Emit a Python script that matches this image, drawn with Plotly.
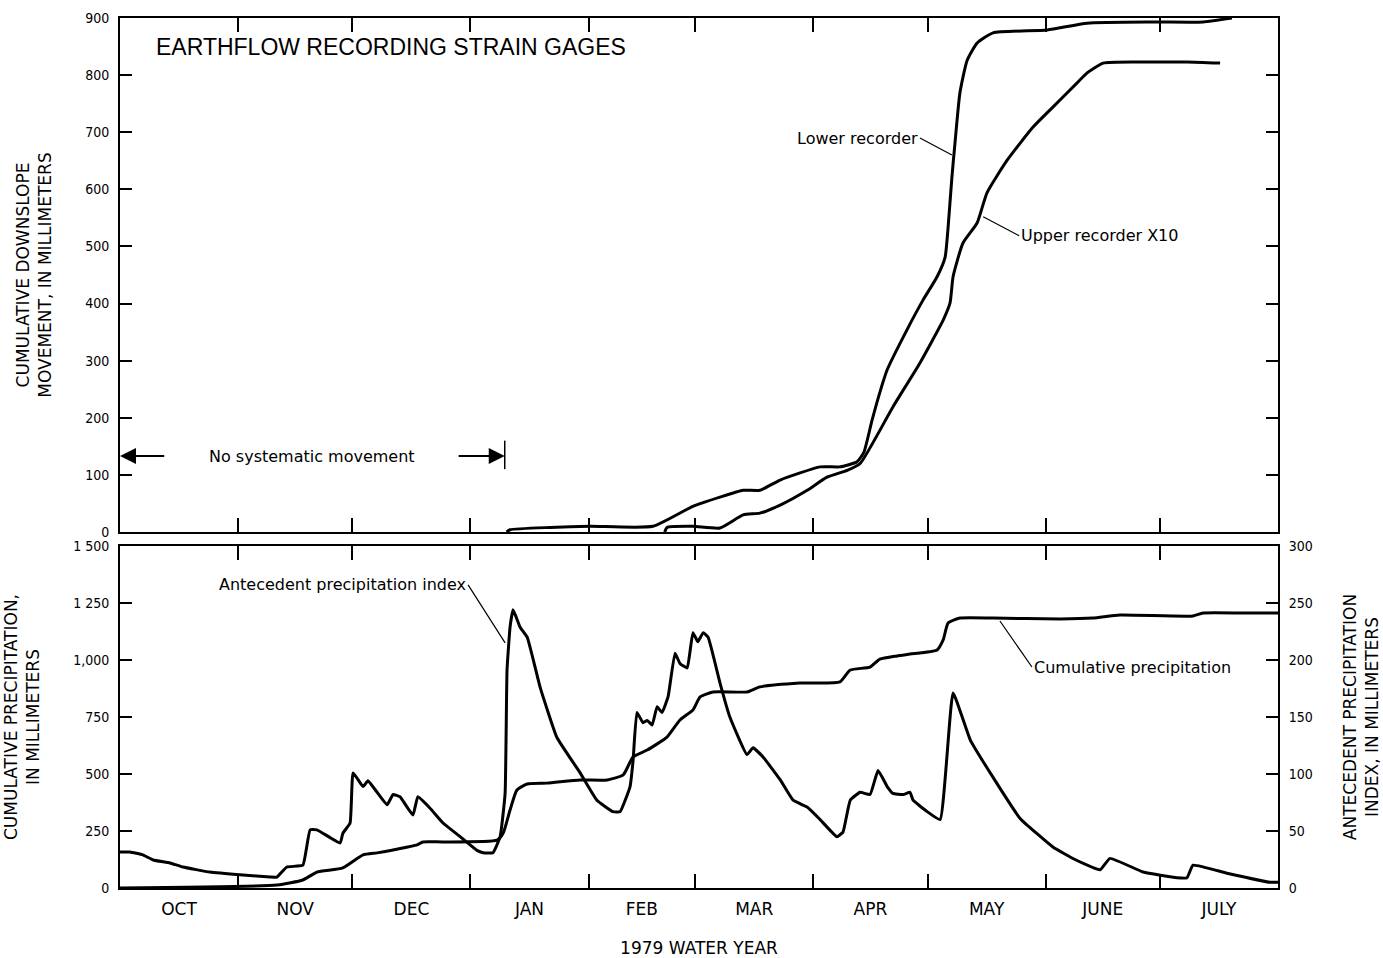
import plotly.graph_objects as go

# ---- data (day of water year: 0 = 1 Oct 1978) ----
month_starts = [0, 31, 61, 92, 123, 151, 182, 212, 243, 273, 304]
month_labels = ["OCT", "NOV", "DEC", "JAN", "FEB", "MAR", "APR", "MAY", "JUNE", "JULY"]

lower_day = [101.5, 102.4, 112.9, 123.4, 139.9, 150.4, 157.5, 163.6, 168.0, 173.3, 183.8, 189.0,
             193.5, 195.3, 197.4, 199.5, 201.4, 206.6, 210.8, 214.5, 216.6, 217.4, 218.4, 219.2,
             220.5, 222.4, 225.0, 229.2, 243.4, 253.9, 271.2, 284.3, 291.9]
lower_mm = [0, 4, 8, 10, 10, 45, 61, 73, 73, 91, 114, 114,
            123, 140, 195, 245, 284, 354, 406, 447, 481, 534, 622, 681,
            769, 826, 856, 874, 879, 891, 893, 893, 900]

upper_day = [143.0, 143.6, 150.4, 157.5, 163.6, 168.0, 173.3, 180.4, 185.6, 190.9, 194.3, 202.9,
             210.0, 216.1, 217.9, 218.7, 221.3, 225.0, 227.6, 232.9, 239.7, 244.9, 251.2, 253.9,
             258.1, 267.0, 280.1, 288.8]
upper_mm = [0, 8, 10, 7, 30, 33, 47, 73, 96, 108, 120, 219,
            296, 371, 401, 447, 506, 541, 594, 651, 709, 744, 786, 804,
            821, 823, 823, 821]

cum_day = [0, 41.2, 48.0, 51.7, 58.5, 63.8, 67.5, 71.7, 78.0, 79.5, 84.8, 99.0, 100.6, 102.4,
           104.2, 106.9, 112.1, 120.8, 127.9, 132.1, 134.7, 138.4, 143.6, 147.0, 150.4, 152.3,
           155.7, 164.6, 168.0, 178.5, 189.0, 191.7, 196.9, 199.5, 204.0, 207.4, 214.5, 216.1,
           217.4, 220.5, 229.2, 246.8, 255.4, 262.5, 281.7, 284.3, 294.8, 304]
cum_mm = [0, 13, 35, 70, 88, 145, 154, 167, 189, 202, 202, 210, 241, 342,
          430, 456, 460, 474, 474, 496, 575, 605, 662, 737, 781, 838,
          860, 860, 882, 899, 904, 956, 969, 1004, 1018, 1026, 1044, 1088,
          1162, 1184, 1184, 1180, 1184, 1197, 1193, 1206, 1206, 1206]

api_day = [0, 2.6, 6.0, 8.7, 13.1, 16.5, 23.6, 32.3, 39.4, 41.2, 43.8, 48.0, 49.9, 51.7, 57.8,
           58.5, 60.4, 61.2, 63.8, 65.1, 70.1, 71.7, 73.5, 76.9, 78.2, 81.4, 84.8, 89.3, 93.7,
           95.3, 97.9, 99.8, 101.1, 101.6, 102.4, 103.2, 105.0, 106.9, 110.3, 114.7, 120.8,
           125.2, 129.4, 131.3, 133.9, 134.7, 135.7, 137.3, 138.4, 139.7, 141.0, 142.3, 143.9,
           145.7, 147.0, 148.9, 150.4, 151.7, 153.1, 154.4, 157.5, 160.1, 164.6, 166.2, 168.8,
           173.3, 176.7, 180.4, 183.8, 188.2, 189.8, 191.7, 194.3, 196.9, 199.0, 201.4, 202.9,
           205.6, 207.4, 208.2, 211.9, 215.3, 218.7, 223.2, 229.2, 236.3, 244.9, 250.7, 257.3,
           259.9, 268.6, 277.5, 280.1, 281.7, 290.6, 301.9, 304]
api_mm = [31.6, 31.6, 29, 24.6, 22, 18.4, 14, 11.4, 9.6, 9.6, 18.4, 20, 51, 51, 39.5,
          48, 57, 101, 89, 94, 73, 82, 80, 64, 80, 70, 57, 45, 33,
          31, 31, 45, 83, 191, 229, 244, 229, 220, 176, 132, 101,
          77, 67, 67, 89, 112, 154, 145, 147, 143, 159, 154, 168,
          206, 197, 193, 224, 216, 224, 220, 180, 150, 117, 123, 115,
          95, 77, 71, 60, 45, 49, 77, 84, 82, 103, 89, 83,
          82, 84, 77, 67, 60, 171, 130, 97, 61, 36, 25, 16,
          26, 14, 9, 9, 20, 13, 5, 5]

top_ticks = list(range(0, 901, 100))
cum_ticks = [0, 250, 500, 750, 1000, 1250, 1500]
cum_ticktext = ["0", "250", "500", "750", "1,000", "1 250", "1 500"]
api_ticks = [0, 50, 100, 150, 200, 250, 300]

# ---- styling ----
BLACK = "black"
TICKFONT = dict(family="Liberation Sans Narrow, DejaVu Sans Condensed, Arial Narrow, sans-serif",
                size=14, color=BLACK)
LABELFONT = dict(family="DejaVu Sans, sans-serif", size=17, color=BLACK)
TITLEFONT = dict(family="DejaVu Sans, sans-serif", size=17, color=BLACK)
line_style = dict(color=BLACK, width=3, shape="spline", smoothing=0.5)

month_mids = [(a + b) / 2 for a, b in zip(month_starts[:-1], month_starts[1:])]
inner_bounds = month_starts[1:-1]

fig = go.Figure()
fig.add_trace(go.Scatter(x=lower_day, y=lower_mm, mode="lines", line=line_style,
                         xaxis="x", yaxis="y", name="Lower recorder"))
fig.add_trace(go.Scatter(x=upper_day, y=upper_mm, mode="lines", line=line_style,
                         xaxis="x", yaxis="y", name="Upper recorder X10"))
fig.add_trace(go.Scatter(x=cum_day, y=cum_mm, mode="lines", line=line_style,
                         xaxis="x2", yaxis="y2", name="Cumulative precipitation"))
fig.add_trace(go.Scatter(x=api_day, y=api_mm, mode="lines",
                         line=dict(color=BLACK, width=3, shape="spline", smoothing=0.35),
                         xaxis="x2", yaxis="y3", name="Antecedent precipitation index"))

minor_x = dict(tickvals=inner_bounds, ticks="inside", ticklen=14, tickwidth=2, tickcolor=BLACK,
               showgrid=False)
common_axis = dict(showline=True, linecolor=BLACK, linewidth=2, showgrid=False, zeroline=False,
                   automargin=False)

fig.update_layout(
    width=1383, height=958,
    margin=dict(l=120, r=105, t=18, b=70),
    paper_bgcolor="white", plot_bgcolor="white",
    showlegend=False,
    xaxis=dict(**common_axis, domain=[0, 1], anchor="y", range=[0, 304], mirror="ticks",
               tickvals=month_mids, ticks="", showticklabels=False, minor=minor_x),
    yaxis=dict(**common_axis, domain=[0.4092, 1], anchor="x", range=[0, 900], mirror="ticks",
               tickvals=top_ticks, ticks="inside", ticklen=12, tickwidth=2, tickcolor=BLACK,
               tickfont=TICKFONT, ticklabelstandoff=6,
               title=dict(text="CUMULATIVE DOWNSLOPE<br>MOVEMENT, IN MILLIMETERS",
                          font=TITLEFONT, standoff=29)),
    xaxis2=dict(**common_axis, domain=[0, 1], anchor="y2", range=[0, 304], mirror="ticks",
                tickvals=month_mids, ticktext=month_labels, ticks="", tickfont=LABELFONT,
                ticklabelstandoff=5, minor=minor_x,
                title=dict(text="1979 WATER YEAR", font=LABELFONT, standoff=26)),
    yaxis2=dict(**common_axis, domain=[0, 0.3931], anchor="x2", range=[0, 1500],
                tickvals=cum_ticks, ticktext=cum_ticktext, ticks="inside", ticklen=12,
                tickwidth=2, tickcolor=BLACK, tickfont=TICKFONT, ticklabelstandoff=6,
                title=dict(text="CUMULATIVE PRECIPITATION,<br>IN MILLIMETERS",
                           font=TITLEFONT, standoff=29)),
    yaxis3=dict(**common_axis, overlaying="y2", anchor="x2", side="right", range=[0, 300],
                tickvals=api_ticks, ticks="inside", ticklen=12, tickwidth=2, tickcolor=BLACK,
                tickfont=TICKFONT, ticklabelstandoff=6,
                title=dict(text="ANTECEDENT PRECIPITATION<br>INDEX, IN MILLIMETERS",
                           font=TITLEFONT, standoff=32)),
)

ANNFONT = dict(family="DejaVu Sans, sans-serif", size=16, color=BLACK)

# title of upper panel
fig.add_annotation(text="EARTHFLOW RECORDING STRAIN GAGES", xref="x", yref="y",
                   x=9, y=850, xanchor="left", yanchor="middle", showarrow=False,
                   font=dict(family="Liberation Sans, Arial, sans-serif", size=23, color=BLACK))

# curve labels with leader lines
fig.add_annotation(text="Lower recorder", xref="x", yref="y", x=218.4, y=660,
                   ax=-32, ay=-17, xanchor="right", yanchor="middle", showarrow=True,
                   arrowhead=0, arrowwidth=1.2, arrowcolor=BLACK, font=ANNFONT)
fig.add_annotation(text="Upper recorder X10", xref="x", yref="y", x=226.6, y=552,
                   ax=36, ay=19, xanchor="left", yanchor="middle", showarrow=True,
                   arrowhead=0, arrowwidth=1.2, arrowcolor=BLACK, font=ANNFONT)
fig.add_annotation(text="Antecedent precipitation index", xref="x2", yref="y3", x=101.1, y=215,
                   ax=-37, ay=-58, xanchor="right", yanchor="middle", showarrow=True,
                   arrowhead=0, arrowwidth=1.2, arrowcolor=BLACK, font=ANNFONT)
fig.add_annotation(text="Cumulative precipitation", xref="x2", yref="y2", x=231, y=1171,
                   ax=32, ay=46, xanchor="left", yanchor="middle", showarrow=True,
                   arrowhead=0, arrowwidth=1.2, arrowcolor=BLACK, font=ANNFONT)

# "No systematic movement" span
fig.add_annotation(text="No systematic movement", xref="x", yref="y", x=50.4, y=133,
                   showarrow=False, font=ANNFONT)
fig.add_annotation(text="", xref="x", yref="y", axref="x", ayref="y",
                   x=0, y=133, ax=12, ay=133, showarrow=True, arrowhead=2,
                   arrowsize=1.6, arrowwidth=2, arrowcolor=BLACK)
fig.add_annotation(text="", xref="x", yref="y", axref="x", ayref="y",
                   x=101, y=133, ax=88.5, ay=133, showarrow=True, arrowhead=2,
                   arrowsize=1.6, arrowwidth=2, arrowcolor=BLACK)
fig.add_shape(type="line", xref="x", yref="y", x0=101, x1=101, y0=110, y1=160,
              line=dict(color=BLACK, width=1.5))

fig.write_html("out.html", config={"displayModeBar": False},
               post_script="document.body.style.margin='0';")
